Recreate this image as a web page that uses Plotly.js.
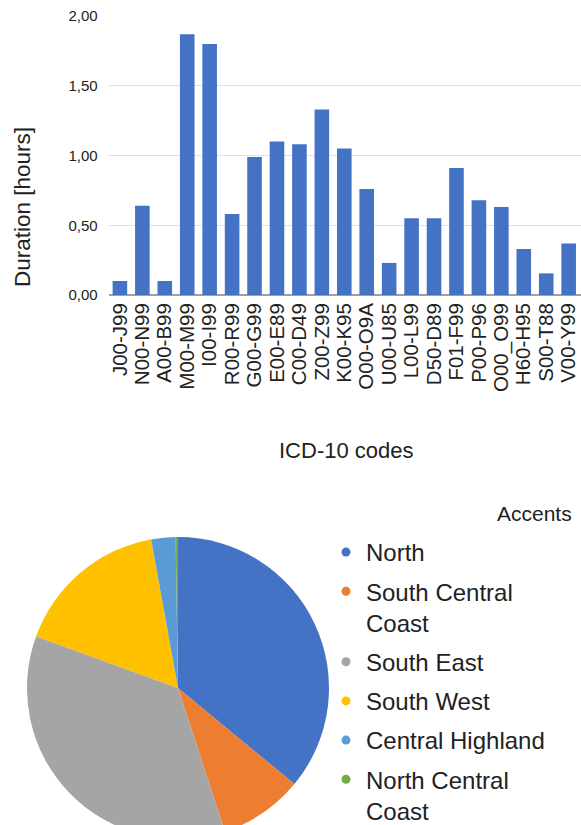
<!DOCTYPE html>
<html>
<head>
<meta charset="utf-8">
<script src="https://cdn.plot.ly/plotly-3.0.1.min.js"></script>
<style>
html, body { margin: 0; padding: 0; overflow: hidden; background: #fff; }
#chart { width: 581px; height: 845px; }
</style>
</head>
<body>
<div id="chart"></div>
<script>
// ---- Data ----
var icdCodes = ["J00-J99","N00-N99","A00-B99","M00-M99","I00-I99","R00-R99","G00-G99","E00-E89","C00-D49","Z00-Z99","K00-K95","O00-O9A","U00-U85","L00-L99","D50-D89","F01-F99","P00-P96","O00_O99","H60-H95","S00-T88","V00-Y99"];
var durationHours = [0.10,0.64,0.10,1.87,1.80,0.58,0.99,1.10,1.08,1.33,1.05,0.76,0.23,0.55,0.55,0.91,0.68,0.63,0.33,0.155,0.37];
var yTickValues = [0, 0.5, 1.0, 1.5, 2.0];

var regions = ["North","South Central<br>Coast","South East","South West","Central Highland","North Central<br>Coast"];
var regionShares = [36.0, 9.0, 35.6, 16.6, 2.6, 0.25];
var regionColors = ["#4472C4","#ED7D31","#A5A5A5","#FFC000","#5B9BD5","#70AD47"];

var W = 581, H = 845;
var font = "Liberation Sans, Arial, sans-serif";

var traces = [];
traces.push({
  type: "bar",
  x: icdCodes,
  y: durationHours,
  marker: { color: "#4472C4" },
  xaxis: "x", yaxis: "y",
  showlegend: false,
  hoverinfo: "skip"
});
traces.push({
  type: "pie",
  labels: regions,
  values: regionShares,
  marker: { colors: regionColors, line: { width: 0 } },
  sort: false,
  direction: "clockwise",
  rotation: 0,
  textinfo: "none",
  hoverinfo: "skip",
  showlegend: false,
  domain: { x: [27 / W, 329 / W], y: [6 / H, 308 / H] }
});
for (var i = 0; i < regions.length; i++) {
  traces.push({
    type: "scatter",
    mode: "markers",
    x: [null], y: [null],
    name: regions[i],
    legendgroup: "g" + i,
    marker: { color: regionColors[i], size: 9 },
    xaxis: "x2", yaxis: "y2",
    hoverinfo: "skip"
  });
}

var layout = {
  width: W, height: H,
  margin: { l: 0, r: 0, t: 0, b: 0 },
  paper_bgcolor: "#fff",
  plot_bgcolor: "#fff",
  separators: ",.",
  font: { family: font, color: "#222" },
  bargap: 0.35,
  xaxis: {
    domain: [108.7 / W, 1],
    anchor: "y",
    range: [-0.5, 20.55],
    tickmode: "array",
    tickvals: icdCodes,
    ticktext: icdCodes,
    tickangle: -90,
    tickfont: { size: 20.5, color: "#222" },
    ticks: "",
    showgrid: false,
    ticklabelstandoff: 3,
    fixedrange: true
  },
  yaxis: {
    domain: [(H - 295) / H, (H - 16) / H],
    anchor: "x",
    range: [0, 2.0],
    tickvals: yTickValues,
    tickformat: ".2f",
    tickfont: { size: 15, color: "#222" },
    gridcolor: "#e0e0e0",
    gridwidth: 1,
    zeroline: true,
    zerolinecolor: "#a0a0a0",
    zerolinewidth: 1.5,
    ticks: "",
    ticklabelstandoff: 10,
    fixedrange: true
  },
  xaxis2: { domain: [0.99, 1], anchor: "y2", visible: false },
  yaxis2: { domain: [0, 0.01], anchor: "x2", visible: false },
  legend: {
    x: 326 / W, xanchor: "left",
    y: (H - 530) / H, yanchor: "top",
    font: { size: 24, color: "#222", family: font },
    valign: "top",
    itemsizing: "trace",
    bgcolor: "rgba(0,0,0,0)",
    tracegroupgap: 5,
    traceorder: "grouped"
  },
  annotations: [
    { text: "Duration [hours]", textangle: -90, xref: "paper", yref: "paper",
      x: 22 / W, y: (H - 207) / H, xanchor: "center", yanchor: "middle",
      showarrow: false, font: { size: 22.5, color: "#222" } },
    { text: "ICD-10 codes", xref: "paper", yref: "paper",
      x: 346 / W, y: (H - 450) / H, xanchor: "center", yanchor: "middle",
      showarrow: false, font: { size: 22, color: "#222" } },
    { text: "Accents", xref: "paper", yref: "paper",
      x: 574 / W, y: (H - 513) / H, xanchor: "right", yanchor: "middle",
      showarrow: false, font: { size: 21, color: "#222" } }
  ],
  showlegend: true,
  hovermode: false
};

Plotly.newPlot("chart", traces, layout, { staticPlot: true, displayModeBar: false });
</script>
</body>
</html>
